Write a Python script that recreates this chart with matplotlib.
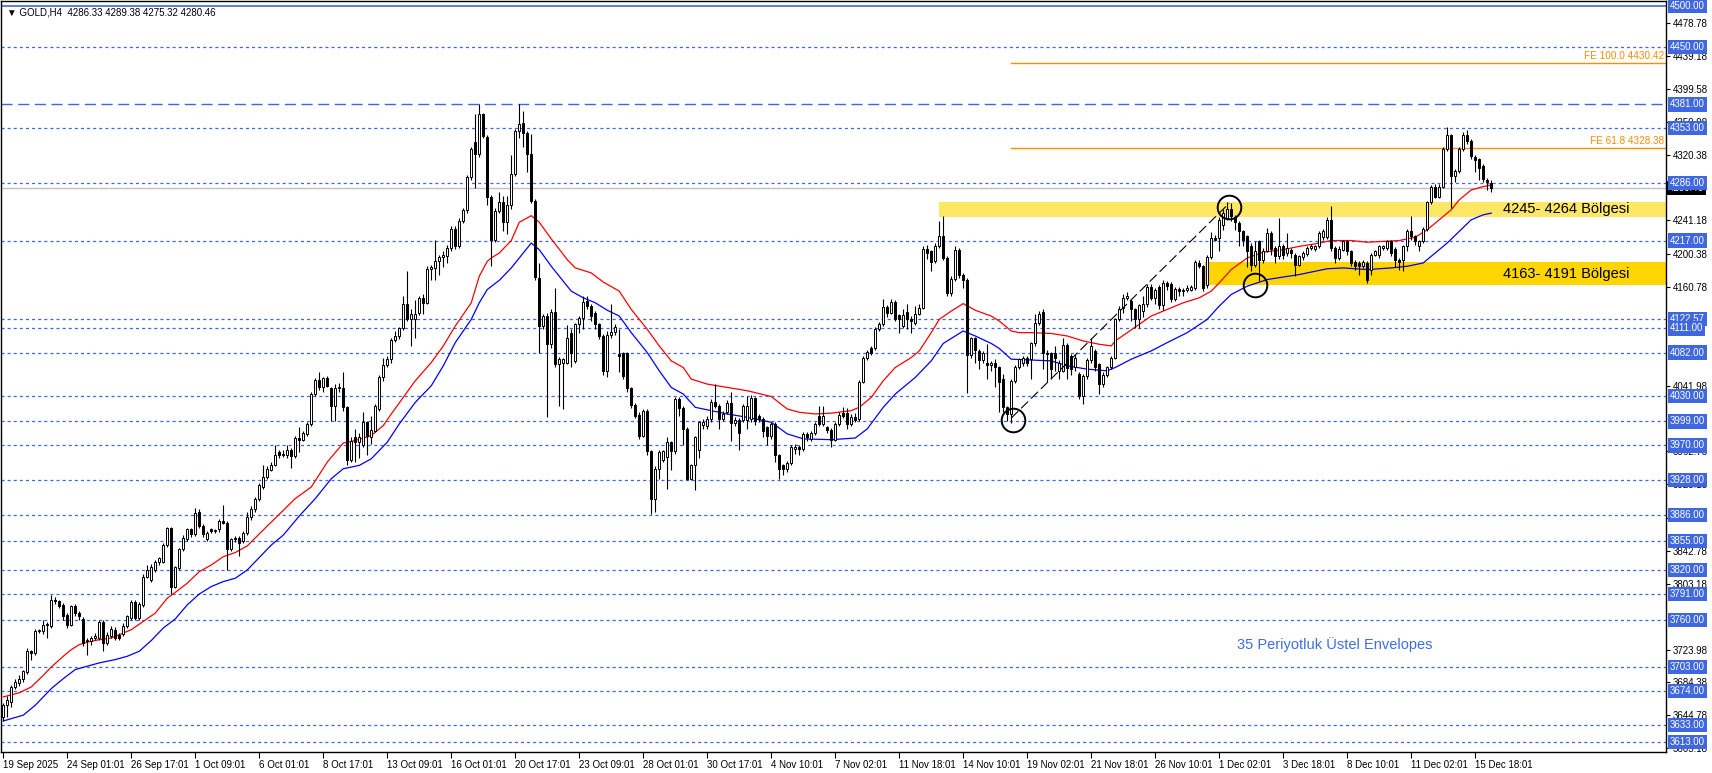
import matplotlib
matplotlib.use('Agg')
import matplotlib.pyplot as plt
import matplotlib.transforms as mtransforms
import numpy as np

plt.rcParams['font.family'] = ['Liberation Sans', 'DejaVu Sans']
plt.rcParams['lines.scale_dashes'] = False

# ---------------- data ----------------
opens = [
    3643, 3657, 3661, 3679, 3684, 3688, 3697, 3722, 3720, 3747,
    3746, 3754, 3752, 3784, 3782, 3778, 3766, 3754, 3776, 3768,
    3761, 3734, 3734, 3738, 3738, 3757, 3732, 3741, 3748, 3742,
    3743, 3753, 3762, 3781, 3762, 3778, 3812, 3808, 3820, 3829,
    3830, 3850, 3870, 3800, 3822, 3845, 3857, 3869, 3863, 3890,
    3873, 3857, 3869, 3867, 3869, 3879, 3877, 3845, 3859, 3859,
    3855, 3865, 3884, 3893,
    3905, 3920, 3932, 3941, 3947, 3962, 3959, 3958, 3965, 3957,
    3979, 3977, 3984, 3996, 4032, 4049, 4040, 4051, 4039, 4018,
    4039, 4039, 4016, 3952, 3980, 3974, 3970, 3998, 3980, 3988,
    4014, 4052, 4067, 4074, 4097, 4102, 4111, 4140, 4122, 4123,
    4130, 4148, 4142, 4183, 4184, 4192, 4197, 4198, 4208, 4231,
    4210, 4241, 4254, 4293, 4336, 4321, 4369, 4342, 4270, 4218, 4253,
    4263, 4239, 4260, 4297, 4349, 4359, 4347, 4321, 4265, 4172,
    4114, 4126, 4092, 4131, 4068, 4070, 4070, 4106, 4072, 4116,
    4124, 4144, 4138, 4130, 4116, 4102, 4060, 4103, 4107, 4080,
    4081, 4081, 4039, 4019, 4007, 3982, 4012, 3963, 3905, 3942,
    3953, 3956, 3974, 3963, 4026, 4015, 3990, 3930, 3946, 3964,
    3995, 3994, 4002, 4023, 4018, 4002, 4010, 4021, 3997, 4001, 4001, 4001,
    4002, 4027, 4006, 4002, 3992, 3982, 3996, 3958, 3946, 3942,
    3949, 3966, 3968, 3966, 3984, 3978, 3985, 4006, 3996, 3992,
    3989, 3977, 3996, 4009, 4009, 3996, 4004, 4002, 4047, 4076,
    4088, 4088, 4110, 4116, 4137, 4130, 4143, 4127, 4114, 4131,
    4123, 4118, 4129, 4136, 4207, 4204, 4192, 4210, 4222, 4196,
    4154, 4171, 4206, 4176, 4170, 4079, 4099, 4084, 4073, 4070, 4067, 4070, 4064,
    4050, 4016, 4008, 4048, 4065, 4069, 4075, 4074, 4093, 4118,
    4131, 4082, 4081, 4082, 4060, 4060, 4091, 4078, 4064, 4056,
    4030, 4054, 4073, 4084, 4068, 4044, 4055, 4064, 4076, 4122,
    4136, 4148, 4144, 4134, 4122, 4132, 4140, 4161, 4148, 4161,
    4139, 4166, 4165, 4146, 4159, 4156, 4158, 4158, 4160, 4190,
    4186, 4163, 4197, 4220, 4220, 4236, 4244, 4255, 4245, 4238, 4228, 4222,
    4210, 4188, 4216, 4194, 4205, 4226, 4208, 4198, 4211, 4202,
    4206, 4200, 4188, 4197, 4201, 4208, 4207, 4210, 4221, 4221,
    4242, 4208, 4196, 4206, 4216, 4204, 4191, 4190, 4186, 4190,
    4181, 4200, 4200, 4208, 4208, 4216, 4207, 4194, 4193, 4210,
    4229, 4222, 4210, 4216, 4231, 4263, 4282, 4270, 4282, 4327,
    4344, 4295, 4301, 4327, 4344, 4337, 4318, 4315, 4307, 4290, 4286.33,
]

highs = [
    3660, 3668, 3681, 3688, 3693, 3700, 3726, 3724, 3749, 3749,
    3760, 3757, 3790, 3787, 3784, 3780, 3768, 3778, 3779, 3770,
    3763, 3738, 3741, 3744, 3760, 3760, 3745, 3753, 3751, 3744,
    3756, 3766, 3784, 3784, 3781, 3815, 3826, 3827, 3832, 3836,
    3852, 3872, 3872, 3825, 3847, 3862, 3871, 3871, 3895, 3893,
    3875, 3867, 3871, 3869, 3881, 3898, 3879, 3859, 3861, 3861,
    3867, 3890, 3897, 3908,
    3925, 3946, 3945, 3950, 3970, 3964, 3965, 3970, 3967, 3982,
    3992, 3988, 3998, 4035, 4051, 4058, 4053, 4054, 4041, 4044,
    4045, 4058, 4018, 3980, 3990, 3985, 4010, 4000, 4005, 4020,
    4055, 4075, 4078, 4100, 4108, 4113, 4150, 4180, 4135, 4145,
    4150, 4152, 4186, 4188, 4218, 4200, 4205, 4212, 4234, 4234,
    4244, 4256, 4296, 4330, 4369, 4381, 4371, 4344, 4272, 4256, 4275,
    4271, 4271, 4320, 4352, 4381, 4373, 4349, 4345, 4267, 4190,
    4129, 4130, 4134, 4160, 4077, 4076, 4115, 4110, 4118, 4126,
    4150, 4150, 4140, 4132, 4118, 4104, 4108, 4140, 4116, 4110,
    4083, 4083, 4041, 4021, 4010, 4014, 4014, 3965, 3945, 3965,
    3965, 3980, 3976, 4028, 4028, 4017, 3992, 3948, 3982, 4000,
    4002, 4005, 4026, 4044, 4020, 4012, 4025, 4034, 4004, 4003, 4020, 4030,
    4031, 4029, 4008, 4004, 3994, 3998, 3998, 3960, 3948, 3951,
    3970, 3972, 3970, 3986, 3986, 3987, 3998, 4018, 4018, 3994,
    3991, 3998, 4010, 4016, 4015, 4008, 4009, 4049, 4078, 4085,
    4090, 4113, 4119, 4147, 4139, 4146, 4145, 4129, 4134, 4140,
    4126, 4138, 4140, 4210, 4212, 4206, 4214, 4240, 4246, 4198,
    4174, 4210, 4208, 4178, 4172, 4101, 4101, 4086, 4084, 4092, 4072, 4074, 4066,
    4056, 4018, 4050, 4067, 4076, 4078, 4078, 4095, 4128, 4132,
    4134, 4085, 4083, 4090, 4073, 4100, 4093, 4080, 4080, 4058,
    4056, 4075, 4100, 4086, 4070, 4058, 4066, 4078, 4124, 4138,
    4152, 4155, 4146, 4136, 4141, 4150, 4165, 4165, 4160, 4163,
    4170, 4168, 4167, 4161, 4161, 4160, 4163, 4164, 4193, 4193,
    4188, 4199, 4227, 4224, 4245, 4255, 4263, 4262, 4248, 4240, 4230, 4224,
    4214, 4216, 4218, 4208, 4232, 4228, 4210, 4244, 4213, 4226,
    4208, 4202, 4200, 4204, 4210, 4213, 4212, 4228, 4231, 4245,
    4259, 4210, 4210, 4218, 4218, 4206, 4193, 4192, 4193, 4192,
    4202, 4206, 4212, 4212, 4218, 4218, 4209, 4196, 4212, 4231,
    4246, 4224, 4218, 4233, 4265, 4284, 4285, 4285, 4330, 4354,
    4346, 4303, 4330, 4348, 4350, 4339, 4320, 4317, 4309, 4292, 4289.38,
]

lows = [
    3638, 3643, 3655, 3676, 3680, 3685, 3695, 3712, 3717, 3744,
    3743, 3738, 3750, 3779, 3774, 3760, 3750, 3752, 3764, 3760,
    3728, 3718, 3730, 3735, 3735, 3722, 3729, 3738, 3736, 3735,
    3740, 3750, 3760, 3760, 3760, 3775, 3810, 3806, 3818, 3826,
    3828, 3848, 3791, 3798, 3820, 3843, 3855, 3860, 3861, 3870,
    3860, 3855, 3865, 3864, 3866, 3875, 3820, 3843, 3854, 3837,
    3852, 3862, 3880, 3890,
    3903, 3918, 3930, 3939, 3945, 3955, 3956, 3955, 3943, 3955,
    3962, 3975, 3982, 3994, 4030, 4037, 4035, 4040, 4000, 4000,
    4035, 4012, 3946, 3950, 3950, 3955, 3968, 3958, 3972, 3986,
    4012, 4048, 4065, 4070, 4095, 4098, 4109, 4120, 4090, 4100,
    4127, 4128, 4140, 4170, 4170, 4175, 4185, 4190, 4205, 4207,
    4208, 4238, 4250, 4290, 4280, 4318, 4340, 4260, 4186, 4215, 4250,
    4228, 4225, 4255, 4295, 4340, 4330, 4300, 4262, 4170, 4082,
    4110, 4004, 4088, 4065, 4018, 4014, 4068, 4065, 4070, 4105,
    4110, 4134, 4120, 4110, 4098, 4055, 4052, 4100, 4103, 4058,
    4050, 4035, 4015, 4003, 3978, 3980, 3958, 3888, 3890, 3930,
    3950, 3918, 3940, 3960, 4005, 3970, 3928, 3928, 3916, 3955,
    3990, 3990, 3998, 4015, 3990, 4000, 4008, 3975, 3994, 3964, 3998, 3990,
    3998, 3995, 3998, 3980, 3970, 3978, 3950, 3930, 3935, 3938,
    3946, 3960, 3958, 3963, 3975, 3976, 3983, 3994, 3994, 3985,
    3968, 3975, 3994, 4003, 3990, 3993, 3998, 4000, 4045, 4073,
    4079, 4085, 4108, 4114, 4125, 4128, 4120, 4105, 4112, 4110,
    4105, 4115, 4127, 4134, 4195, 4180, 4190, 4208, 4193, 4150,
    4150, 4168, 4172, 4160, 4033, 4076, 4070, 4062, 4070, 4050, 4060, 4040, 4010,
    4010, 4000, 3997, 4045, 4062, 4066, 4066, 4050, 4090, 4115,
    4062, 4046, 4050, 4060, 4050, 4058, 4050, 4055, 4060, 4026,
    4020, 4050, 4070, 4060, 4032, 4040, 4052, 4062, 4074, 4120,
    4130, 4145, 4120, 4112, 4112, 4125, 4137, 4145, 4140, 4135,
    4133, 4158, 4143, 4144, 4150, 4150, 4155, 4156, 4158, 4184,
    4156, 4160, 4195, 4216, 4205, 4230, 4242, 4240, 4230, 4210, 4210, 4185,
    4180, 4185, 4168, 4190, 4203, 4200, 4190, 4195, 4195, 4198,
    4196, 4174, 4186, 4194, 4198, 4206, 4204, 4208, 4218, 4219,
    4204, 4190, 4193, 4204, 4200, 4186, 4181, 4176, 4184, 4166,
    4176, 4198, 4196, 4206, 4206, 4198, 4185, 4182, 4180, 4204,
    4218, 4212, 4205, 4214, 4229, 4261, 4268, 4268, 4280, 4325,
    4256, 4287, 4299, 4325, 4333, 4315, 4300, 4290, 4288, 4278, 4275.32,
]

closes = [
    3657, 3663, 3679, 3685, 3689, 3698, 3722, 3720, 3747, 3747,
    3754, 3755, 3784, 3782, 3776, 3764, 3754, 3776, 3768, 3764,
    3732, 3736, 3738, 3741, 3757, 3732, 3742, 3749, 3738, 3738,
    3753, 3764, 3781, 3762, 3779, 3812, 3820, 3823, 3830, 3834,
    3850, 3870, 3800, 3823, 3845, 3859, 3869, 3863, 3889, 3873,
    3863, 3865, 3867, 3867, 3879, 3877, 3845, 3857, 3857, 3853,
    3865, 3884, 3893, 3905,
    3922, 3932, 3942, 3947, 3959, 3958, 3959, 3965, 3957, 3979,
    3977, 3985, 3996, 4032, 4049, 4040, 4051, 4042, 4018, 4039,
    4039, 4016, 3952, 3976, 3974, 3980, 3998, 3982, 3989, 4018,
    4052, 4067, 4074, 4097, 4102, 4111, 4140, 4123, 4129, 4129,
    4148, 4142, 4183, 4185, 4192, 4197, 4200, 4208, 4231, 4210,
    4241, 4254, 4293, 4327, 4321, 4369, 4343, 4270, 4218, 4253, 4263,
    4239, 4260, 4297, 4349, 4357, 4347, 4321, 4265, 4173, 4114,
    4126, 4092, 4131, 4068, 4074, 4074, 4099, 4082, 4116, 4124,
    4143, 4138, 4126, 4116, 4102, 4060, 4103, 4107, 4113, 4078,
    4054, 4039, 4019, 4006, 3982, 4012, 3963, 3905, 3942, 3962,
    3963, 3974, 3963, 4026, 4015, 3990, 3930, 3946, 3980, 3998,
    3998, 4002, 4023, 4018, 4002, 4008, 4021, 3997, 4001, 3985, 4017, 4017,
    4027, 4000, 4002, 3988, 3982, 3996, 3958, 3942, 3942, 3949,
    3968, 3968, 3966, 3984, 3980, 3985, 3996, 3996, 4006, 3989,
    3977, 3996, 4007, 4006, 3996, 4004, 4001, 4047, 4076, 4083,
    4082, 4110, 4116, 4137, 4130, 4143, 4123, 4122, 4127, 4122,
    4120, 4129, 4136, 4207, 4202, 4191, 4210, 4222, 4196, 4154,
    4171, 4206, 4176, 4169, 4079, 4099, 4085, 4073, 4082, 4067, 4070, 4064, 4046,
    4016, 4008, 4048, 4065, 4074, 4075, 4069, 4093, 4118, 4129,
    4082, 4080, 4062, 4075, 4070, 4091, 4063, 4062, 4076, 4030,
    4054, 4073, 4090, 4065, 4044, 4055, 4064, 4076, 4122, 4135,
    4148, 4150, 4134, 4122, 4139, 4140, 4161, 4148, 4158, 4139,
    4166, 4162, 4146, 4159, 4156, 4158, 4160, 4161, 4191, 4186,
    4160, 4197, 4220, 4218, 4242, 4250, 4255, 4246, 4239, 4228, 4218, 4204,
    4188, 4205, 4194, 4205, 4226, 4207, 4198, 4211, 4200, 4208,
    4202, 4188, 4198, 4202, 4208, 4211, 4210, 4226, 4229, 4242,
    4208, 4196, 4207, 4216, 4204, 4190, 4186, 4186, 4191, 4170,
    4200, 4204, 4210, 4210, 4216, 4202, 4194, 4191, 4210, 4229,
    4222, 4217, 4216, 4231, 4263, 4281, 4270, 4282, 4327, 4344,
    4295, 4301, 4327, 4344, 4337, 4319, 4314, 4305, 4291, 4287, 4280.46,
]

# 35-period exponential envelope lines, sampled (bar index, price)
red_x = [0, 4, 7, 10, 12, 15, 17, 19, 21, 24, 27, 30, 32, 35, 38, 41, 43, 46, 49, 52,
         55, 58, 61, 66, 73, 77, 81, 85, 88, 92, 95, 97, 100, 103, 107, 110, 113, 117,
         119, 121, 122, 124, 127, 129, 132, 134, 137, 141, 143, 147, 150, 154, 157, 161,
         164, 167, 170, 172, 176, 181, 186, 192, 196, 199, 203, 207, 212, 214, 217, 220,
         223, 227, 229, 232, 234, 237, 240, 243, 247, 249, 252, 254, 257, 262, 266, 270,
         274, 277, 278, 281, 284, 287, 291, 295, 299, 302, 304, 307, 311, 315, 320, 324,
         328, 332, 337, 341, 345, 349, 353, 356, 358, 362, 364, 367, 370, 372]
red_y = [3667, 3672, 3679, 3693, 3703, 3716, 3724, 3730, 3733, 3736, 3738, 3744, 3748,
         3758, 3768, 3786, 3793, 3804, 3818, 3826, 3836, 3841, 3849, 3873, 3906, 3920,
         3950, 3973, 3976, 3982, 3994, 4008, 4028, 4048, 4070, 4090, 4114, 4142, 4174,
         4192, 4196, 4202, 4217, 4239, 4247, 4239, 4219, 4194, 4184, 4178, 4167, 4156,
         4134, 4110, 4090, 4072, 4064, 4050, 4044, 4040, 4036, 4029, 4014, 4010, 4008,
         4009, 4012, 4016, 4028, 4048, 4064, 4076, 4084, 4106, 4122, 4132, 4141, 4133,
         4126, 4120, 4108, 4106, 4106, 4105, 4102, 4096, 4092, 4090, 4096, 4106, 4116,
         4126, 4134, 4142, 4148, 4156, 4166, 4182, 4196, 4203, 4206, 4210, 4213, 4217,
         4217, 4215, 4216, 4217, 4221, 4230, 4238, 4254, 4266, 4278, 4282, 4284]

blue_x = [0, 5, 8, 12, 15, 18, 21, 24, 28, 31, 34, 37, 40, 43, 46, 49, 52, 55, 58, 61,
          67, 70, 74, 78, 82, 85, 89, 92, 96, 99, 103, 107, 110, 113, 117, 119, 121, 124,
          127, 130, 132, 134, 137, 142, 145, 148, 151, 154, 157, 161, 164, 167, 170, 173,
          177, 181, 186, 192, 196, 200, 207, 213, 216, 220, 223, 228, 232, 235, 237, 240,
          243, 247, 249, 252, 257, 262, 266, 271, 276, 278, 282, 287, 291, 296, 301, 304,
          307, 311, 316, 320, 324, 331, 335, 341, 347, 351, 355, 357, 361, 364, 367, 370,
          372]
blue_y = [3638, 3645, 3657, 3677, 3689, 3700, 3704, 3708, 3712, 3716, 3722, 3735, 3750,
          3761, 3778, 3791, 3800, 3806, 3810, 3820, 3850, 3862, 3885, 3906, 3930, 3942,
          3946, 3954, 3974, 3996, 4022, 4042, 4066, 4094, 4122, 4142, 4158, 4169, 4184,
          4202, 4214, 4206, 4186, 4156, 4148, 4142, 4133, 4126, 4106, 4082, 4060, 4040,
          4032, 4016, 4012, 4008, 4004, 3998, 3984, 3978, 3977, 3979, 3990, 4016, 4032,
          4052, 4072, 4093, 4099, 4108, 4102, 4093, 4087, 4074, 4073, 4072, 4066, 4062,
          4060, 4064, 4074, 4084, 4094, 4106, 4122, 4138, 4152, 4162, 4170, 4173, 4176,
          4183, 4184, 4182, 4184, 4186, 4190, 4198, 4214, 4228, 4242, 4248, 4250]

# horizontal support / resistance levels
levels = [4450, 4353, 4286, 4217, 4122.57, 4111, 4082, 4030, 3999, 3970, 3928,
          3886, 3855, 3820, 3791, 3760, 3703, 3674, 3633, 3613]
level_top = 4500
level_major = 4381
bid_price = 4280.46

fe_levels = [4430.42, 4328.38]
fe_names = ['FE 100.0 4430.42', 'FE 61.8 4328.38']
fe_start = 252

zones = [(4245, 4264), (4163, 4191)]
zone_start = [234, 300.5]
zone_names = ['4245- 4264 Bölgesi', '4163- 4191 Bölgesi']

trend_x = [252, 306.5]
trend_y = [4003, 4262]
circle_x = [252.5, 306.5, 313]
circle_y = [4001, 4258, 4164]

ytick_values = [4478.78, 4439.18, 4399.58, 4359.98, 4320.38, 4241.18, 4200.38, 4160.78,
                4041.98, 3962.78, 3923.18, 3882.58, 3842.78, 3803.18, 3723.98, 3684.38,
                3644.78, 3605.18]

xtick_pos = list(range(0, 369, 16))
xtick_labels = ['19 Sep 2025', '24 Sep 01:01', '26 Sep 17:01', '1 Oct 09:01',
                '6 Oct 01:01', '8 Oct 17:01', '13 Oct 09:01', '16 Oct 01:01',
                '20 Oct 17:01', '23 Oct 09:01', '28 Oct 01:01', '30 Oct 17:01',
                '4 Nov 10:01', '7 Nov 02:01', '11 Nov 18:01', '14 Nov 10:01',
                '19 Nov 02:01', '21 Nov 18:01', '26 Nov 10:01', '1 Dec 02:01',
                '3 Dec 18:01', '8 Dec 10:01', '11 Dec 02:01', '15 Dec 18:01']

# ---------------- figure ----------------
W, H = 1712, 773
fig = plt.figure(figsize=(W / 100, H / 100), dpi=100)
ax = fig.add_axes([1 / W, (H - 752) / H, 1665 / W, 751 / H])

n = min(len(opens), len(highs), len(lows), len(closes))
o = np.array(opens[:n], dtype=float)
h = np.array(highs[:n], dtype=float)
l = np.array(lows[:n], dtype=float)
c = np.array(closes[:n], dtype=float)
x = np.arange(n)

ax.set_xlim(-0.575, 415.7)
ax.set_ylim(3600.6, 4505.7)

level_color = '#3f67e0'

# zones (behind everything else)
for (lo, hi), xs, col in zip(zones, zone_start, ['#ffe766', '#ffd500']):
    ax.fill_between([xs, 416], lo, hi, color=col, lw=0, zorder=0.5)

# levels
ax.axhline(level_top, color=level_color, lw=1.2, zorder=1)
ax.axhline(level_major, color=level_color, lw=1.0, ls=(0, (8, 4)), zorder=1)
for lv in levels:
    ax.axhline(lv, color=level_color, lw=0.9, ls=(0, (2.2, 2.2)), zorder=1)
ax.axhline(bid_price, color='#c0c0c0', lw=1.0, zorder=1)

# fibonacci expansion lines
for lv, name in zip(fe_levels, fe_names):
    ax.plot([fe_start, 416], [lv, lv], color='#ff8c00', lw=1.0, zorder=1.2)
    ax.text(415.3, lv + 2.5, name, color='#ff8c00', fontsize=7.2,
            ha='right', va='bottom', zorder=3)

# envelope lines
ax.plot(red_x, red_y, color='#ff0000', lw=0.9, zorder=2)
ax.plot(blue_x, blue_y, color='#0000ff', lw=0.9, zorder=2)

# candles
ax.vlines(x, l, h, color='black', lw=0.8, zorder=3)
up = c >= o
body_lo = np.minimum(o, c)
body_h = np.maximum(np.abs(c - o), 1.2)
ax.bar(x[up], body_h[up], bottom=body_lo[up], width=0.55, color='white',
       edgecolor='black', lw=0.7, zorder=4)
ax.bar(x[~up], body_h[~up], bottom=body_lo[~up], width=0.55, color='black',
       edgecolor='black', lw=0.7, zorder=4)

# trend line + circles
ax.plot(trend_x, trend_y, color='black', lw=0.8, ls=(0, (7, 3)), zorder=5)
ax.plot(circle_x, circle_y, 'o', ms=17, mfc='none', mec='black', mew=1.4, zorder=5)

# zone labels
for (lo, hi), name in zip(zones, zone_names):
    ax.text(375.0, (lo + hi) / 2, name, fontsize=10.5, color='black',
            ha='left', va='center', zorder=6)

ax.text(333, 3730, '35 Periyotluk Üstel Envelopes', color='#3d6fe0', fontsize=10.5,
        ha='center', va='center', zorder=6)

# header
ax.text(0.0035, 0.992, '▼ GOLD,H4  4286.33 4289.38 4275.32 4280.46', transform=ax.transAxes,
        fontsize=7, ha='left', va='top', color='black', zorder=6)

# axes styling
for sp in ax.spines.values():
    sp.set_color('black')
    sp.set_linewidth(1.0)
ax.yaxis.tick_right()
ax.set_yticks(ytick_values)
ax.set_yticklabels([f'{v:.2f}' for v in ytick_values])
ax.tick_params(axis='y', which='both', direction='out', length=3, width=0.8,
               labelsize=7.0, pad=2, colors='black')
ax.set_xticks(xtick_pos)
ax.set_xticklabels(xtick_labels, ha='left')
ax.tick_params(axis='x', direction='out', length=4, width=0.8, labelsize=7.0, pad=2)
for lbl in ax.get_xticklabels():
    lbl.set_horizontalalignment('left')

# price boxes on the right axis
trans = mtransforms.blended_transform_factory(ax.transAxes, ax.transData)
ax.text(1.0016, bid_price, f'{bid_price:.2f}', transform=trans, fontsize=7.0,
        color='white', ha='left', va='center', clip_on=False, zorder=7,
        bbox=dict(boxstyle='square,pad=0.22', fc='black', ec='none'))
for lv in [level_top, level_major] + levels:
    ax.text(1.0022, lv, f'{lv:.2f}', transform=trans, fontsize=7.0, color='white',
            ha='left', va='center', clip_on=False, zorder=8,
            bbox=dict(boxstyle='square,pad=0.22', fc=level_color, ec='none'))

fig.savefig('out.png', dpi=100)
